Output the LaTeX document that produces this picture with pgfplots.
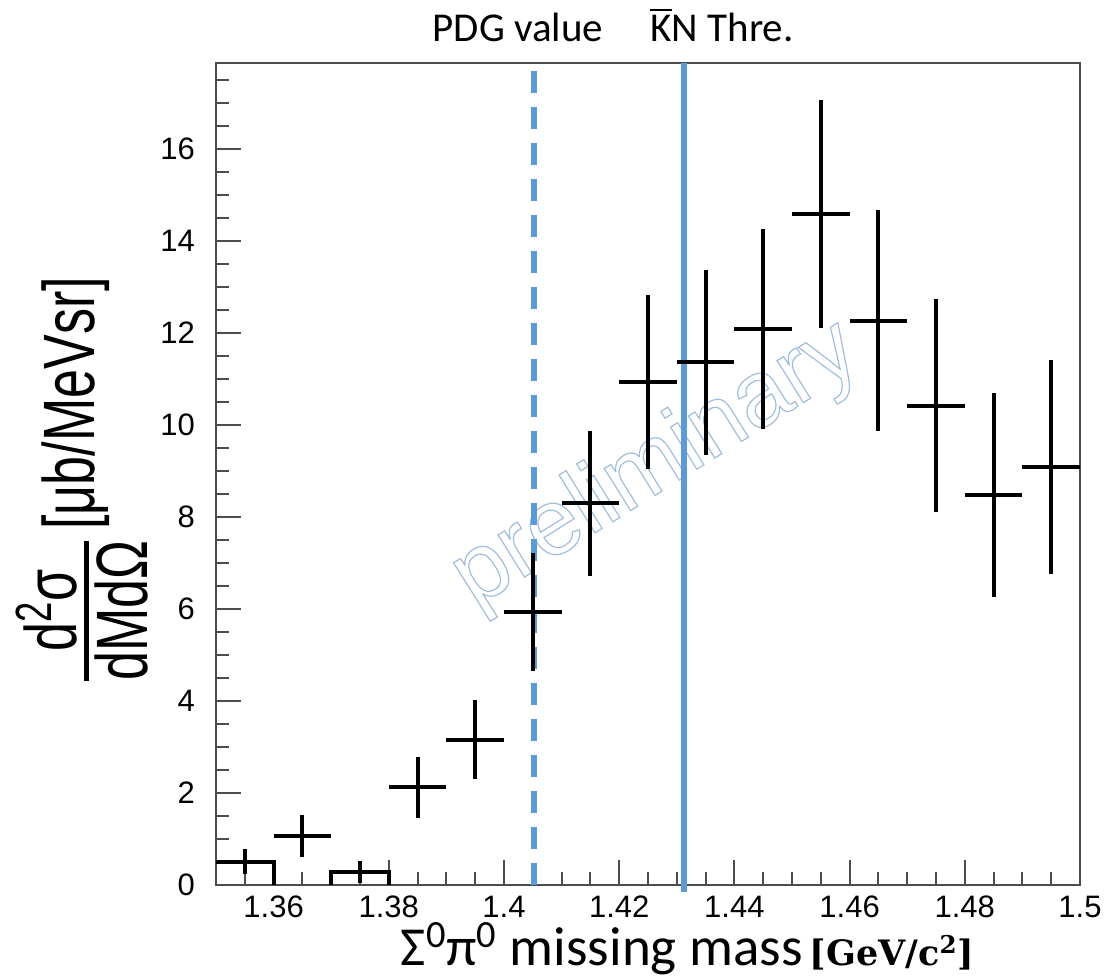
\documentclass[border=0pt]{standalone}
\usepackage{fontspec}
\usepackage{amsmath}
\usepackage{graphicx}
\usepackage{pgfplots}
\usepackage{pgfplotstable}
\pgfplotsset{compat=1.18}
\setmainfont{Liberation Sans}
\newfontfamily\carl{Carlito}
\newfontfamily\dvs{DejaVu Serif}
\definecolor{lineblue}{RGB}{91,155,213}

\pgfplotstableread{
x      y     ex     ey
1.355  0.51  0.005  0.28
1.365  1.07  0.005  0.46
1.375  0.28  0.005  0.24
1.385  2.12  0.005  0.66
1.395  3.16  0.005  0.86
1.405  5.93  0.005  1.28
1.415  8.30  0.005  1.58
1.425  10.94 0.005  1.89
1.435  11.36 0.005  2.02
1.445  12.08 0.005  2.17
1.455  14.59 0.005  2.48
1.465  12.27 0.005  2.40
1.475  10.42 0.005  2.32
1.485  8.48  0.005  2.22
1.495  9.09  0.005  2.32
}\datatab

\begin{document}
\begin{tikzpicture}
\begin{axis}[
  at={(108pt,46.5pt)}, anchor=south west,
  scale only axis, width=432pt, height=411pt,
  xmin=1.35, xmax=1.5, ymin=0, ymax=17.87,
  axis line style={black!70, line width=1pt},
  every tick/.style={black!70, line width=1pt},
  tick align=inside, xtick pos=left, ytick pos=left,
  major tick length=12.5pt, minor tick length=6.5pt,
  xtick={1.36,1.38,1.4,1.42,1.44,1.46,1.48,1.5},
  xticklabels={1.36,1.38,1.4,1.42,1.44,1.46,1.48,1.5},
  minor xtick={1.355,1.365,1.37,1.375,1.385,1.39,1.395,1.405,1.41,1.415,1.425,1.43,1.435,1.445,1.45,1.455,1.465,1.47,1.475,1.485,1.49,1.495},
  ytick={0,2,4,6,8,10,12,14,16},
  yticklabels={0,2,4,6,8,10,12,14,16},
  minor ytick={0.5,1,1.5,2.5,3,3.5,4.5,5,5.5,6.5,7,7.5,8.5,9,9.5,10.5,11,11.5,12.5,13,13.5,14.5,15,15.5,16.5,17,17.5},
  ticklabel style={font=\fontsize{15.5}{18}\selectfont},
  yticklabel style={xshift=-7pt},
  xticklabel style={yshift=-2pt},
  clip=false,
]
% watermark (outlined text)
\node[rotate=32, font=\fontsize{47}{50}\selectfont, text=white] at (rel axis cs:0.51,0.51) {\special{pdf:literal q 1 Tr 0.6 w 0.63 0.74 0.86 RG}preliminary\special{pdf:literal Q}};
% reference lines
\addplot[lineblue, line width=2.8pt, dash pattern=on 11pt off 7pt] coordinates {(1.4052,0) (1.4052,17.87)};
\addplot[lineblue, line width=2.8pt] coordinates {(1.4313,-0.15) (1.4313,17.87)};
% histogram outlines of bins 1 and 3
\addplot[black, line width=2pt] coordinates {(1.35,0.51) (1.36,0.51) (1.36,0)};
\addplot[black, line width=2pt] coordinates {(1.37,0) (1.37,0.28) (1.38,0.28) (1.38,0)};
% data
\addplot[black, draw=none, mark=none,
  error bars/.cd, x dir=both, x explicit, y dir=both, y explicit,
  error mark=none, error bar style={line width=2pt, black, solid}]
  table[x=x, y=y, x error=ex, y error=ey] {\datatab};
\end{axis}
% top labels
\node[anchor=base, font=\carl\fontsize{20.5}{24}\selectfont] at (259pt,468pt) {PDG value};
\node[anchor=base, font=\carl\fontsize{20.5}{24}\selectfont] at (361pt,468pt) {$\overline{\hbox{K}}$N Thre.};
% x label
\node[anchor=base] at (343.75pt,6pt) {{\carl\fontsize{27.5}{30}\selectfont Σ\textsuperscript{0}π\textsuperscript{0} missing mass}\hspace{3.5pt}{\dvs\bfseries\fontsize{17.5}{22}\selectfont [GeV/c\textsuperscript{2}]}};
% y label
\node[rotate=90, anchor=center] at (41pt,249pt) {\scalebox{1}[1.4]{\fontsize{26}{30}\selectfont $\genfrac{}{}{1.8pt}{1}{\textstyle\text{d\textsuperscript{2}σ}}{\textstyle\text{dMdΩ}}$\,\raisebox{3.5pt}{[μb/MeVsr]}}};
\pgfresetboundingbox
\path[use as bounding box] (0,0) rectangle (552.5pt,489pt);
\end{tikzpicture}
\end{document}
